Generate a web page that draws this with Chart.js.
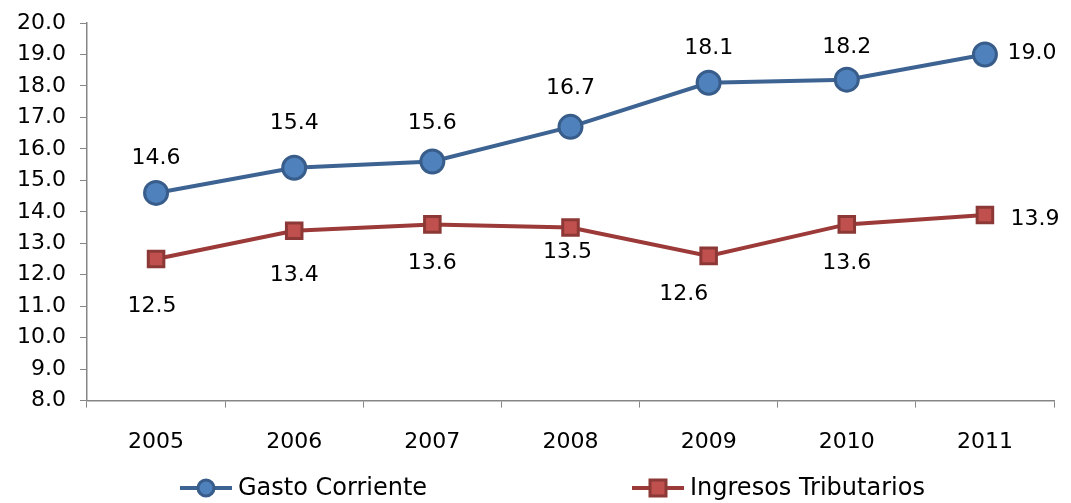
<!DOCTYPE html>
<html>
<head>
<meta charset="utf-8">
<script src="https://cdn.jsdelivr.net/npm/chart.js@4/dist/chart.umd.min.js"></script>
<style>
  html, body { margin: 0; padding: 0; background: #fff; }
  #wrap { width: 1071px; height: 503px; }
</style>
</head>
<body>
<div id="wrap"><canvas id="chart" width="1071" height="503"></canvas></div>
<script>
const years = ['2005', '2006', '2007', '2008', '2009', '2010', '2011'];
const gastoCorriente = [14.6, 15.4, 15.6, 16.7, 18.1, 18.2, 19.0];
const ingresosTributarios = [12.5, 13.4, 13.6, 13.5, 12.6, 13.6, 13.9];
const yTicks = [8, 9, 10, 11, 12, 13, 14, 15, 16, 17, 18, 19, 20];

const FONT = "'DejaVu Sans', sans-serif";

// where each value label sits relative to its point (px)
const labelOffsets = {
    0: [[0, -35], [0, -44], [0, -38], [0, -39], [0, -35], [0, -32], [47, -1]],
    1: [[-4, 47], [0, 45], [0, 39], [-3, 25], [-25, 38], [0, 39], [50, 4]]
};

const valueLabels = {
    id: 'valueLabels',
    afterDatasetsDraw(chart) {
        const ctx = chart.ctx;
        ctx.save();
        ctx.font = '22px ' + FONT;
        ctx.fillStyle = '#000';
        ctx.textAlign = 'center';
        ctx.textBaseline = 'middle';
        chart.data.datasets.forEach((ds, i) => {
            const meta = chart.getDatasetMeta(i);
            meta.data.forEach((pt, j) => {
                const off = labelOffsets[i][j];
                ctx.fillText(ds.data[j].toFixed(1), pt.x + off[0], pt.y + off[1]);
            });
        });
        ctx.restore();
    }
};

// legend drawn like Excel: short line with the marker in the middle
const lineLegend = {
    id: 'lineLegend',
    afterDraw(chart) {
        const ctx = chart.ctx;
        const items = [
            { x: 180, ds: chart.data.datasets[0] },
            { x: 632, ds: chart.data.datasets[1] }
        ];
        const y = 488;
        ctx.save();
        items.forEach(it => {
            ctx.strokeStyle = it.ds.borderColor;
            ctx.lineWidth = 4;
            ctx.beginPath();
            ctx.moveTo(it.x, y);
            ctx.lineTo(it.x + 52, y);
            ctx.stroke();
            ctx.fillStyle = it.ds.pointBackgroundColor;
            ctx.strokeStyle = it.ds.pointBorderColor;
            ctx.lineWidth = 3;
            ctx.beginPath();
            if (it.ds.pointStyle === 'rect') {
                ctx.rect(it.x + 26 - 8, y - 8, 16, 16);
            } else {
                ctx.arc(it.x + 26, y, 8, 0, Math.PI * 2);
            }
            ctx.fill();
            ctx.stroke();
            ctx.fillStyle = '#000';
            ctx.font = '24px ' + FONT;
            ctx.textAlign = 'left';
            ctx.textBaseline = 'middle';
            ctx.fillText(it.ds.label, it.x + 58, y + 1);
        });
        ctx.restore();
    }
};

new Chart(document.getElementById('chart').getContext('2d'), {
    type: 'line',
    data: {
        labels: years,
        datasets: [{
            label: 'Gasto Corriente',
            data: gastoCorriente,
            borderColor: '#3D6393',
            borderWidth: 4,
            pointStyle: 'circle',
            pointRadius: 11.5,
            pointBackgroundColor: '#4F81BD',
            pointBorderColor: '#385D8A',
            pointBorderWidth: 3,
            tension: 0
        }, {
            label: 'Ingresos Tributarios',
            data: ingresosTributarios,
            borderColor: '#9B3A38',
            borderWidth: 4,
            pointStyle: 'rect',
            pointRadius: 11,
            pointBackgroundColor: '#C0504D',
            pointBorderColor: '#8C3836',
            pointBorderWidth: 3,
            tension: 0
        }]
    },
    options: {
        responsive: false,
        animation: false,
        layout: { padding: { top: 23, right: 17, bottom: 27, left: 3 } },
        plugins: {
            legend: { display: false },
            tooltip: { enabled: false }
        },
        scales: {
            x: {
                offset: true,
                grid: { display: true, drawOnChartArea: false, offset: true, tickLength: 7, color: '#868686' },
                border: { color: '#868686', width: 1.5 },
                ticks: { color: '#000', font: { family: FONT, size: 22 }, padding: 21 }
            },
            y: {
                min: 8,
                max: 20,
                afterBuildTicks(scale) { scale.ticks = yTicks.map(v => ({ value: v })); },
                // tick padding would otherwise push the plot top down
                afterFit(scale) { scale.paddingTop = 0; scale.paddingBottom = 0; },
                grid: { display: true, drawOnChartArea: false, tickLength: 7, color: '#868686' },
                border: { color: '#868686', width: 1.5 },
                ticks: {
                    color: '#000',
                    font: { family: FONT, size: 22 },
                    padding: 14,
                    callback: v => v.toFixed(1)
                }
            }
        }
    },
    plugins: [valueLabels, lineLegend]
});
</script>
</body>
</html>
